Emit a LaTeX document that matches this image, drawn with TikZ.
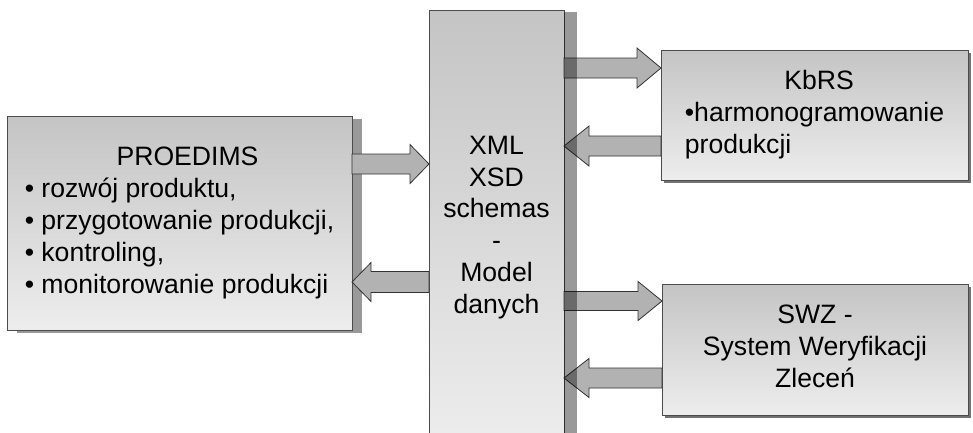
\documentclass[tikz,border=0pt]{standalone}
\usepackage{fontspec}
\setmainfont{Liberation Sans}
\usetikzlibrary{shadows,calc}
\newcommand\blockarr[6]{% from, to, image y, shaft half, head half, signed head length
  \draw[barrow] let \p1=(#1 |- 0,#3), \p2=(#2 |- 0,#3) in
    (\x1,\y2+#4) -- (\x2-#6,\y2+#4) -- (\x2-#6,\y2+#5) -- (\x2,\y2)
    -- (\x2-#6,\y2-#5) -- (\x2-#6,\y2-#4) -- (\x1,\y2-#4) -- cycle;}
\begin{document}
\begin{tikzpicture}[x=1pt,y=-1pt,
  boxstyle/.style={draw=black!70,line width=1pt,top color=black!23,bottom color=black!7,
    inner sep=0pt,outer sep=0pt,font=\fontsize{26.6pt}{31.9pt}\selectfont},
  barrow/.style={draw=black!80,line width=0.8pt,fill=black!30,line join=miter}]
\useasboundingbox (0,0) rectangle (973,432);
\fill[white] (0,0) rectangle (973,432);

\node[boxstyle,minimum width=345pt,minimum height=214pt,
  general shadow={fill=black!40,shadow xshift=10pt,shadow yshift=-3pt}] (P) at (179.5,223)
  {\begin{tabular}{@{}l@{}}\multicolumn{1}{@{}c@{}}{\hspace{16pt}PROEDIMS}\\
   • rozwój produktu,\\ • przygotowanie produkcji,\\ • kontroling,\\ • monitorowanie produkcji\end{tabular}};

\node[boxstyle,minimum width=135pt,minimum height=435pt] (C) at (496.5,227.5)
  {\begin{tabular}{@{}c@{}}XML\\ XSD\\ schemas\\ -\\ Model\\ danych\end{tabular}};

\node[boxstyle,minimum width=307pt,minimum height=130pt,
  general shadow={fill=black!55,shadow xshift=2.5pt,shadow yshift=-3pt}] (K) at (814.5,115)
  {\begin{tabular}{@{}l@{}}\multicolumn{1}{@{}c@{}}{\hspace{9pt}KbRS}\\
   •harmonogramowanie\\ produkcji\end{tabular}};

\node[boxstyle,minimum width=306pt,minimum height=131pt,
  general shadow={fill=black!55,shadow xshift=2.5pt,shadow yshift=-3pt}] (S) at (815,349.5)
  {\begin{tabular}{@{}c@{}}SWZ -\\ System Weryfikacji\\ Zleceń\end{tabular}};

% connectors
\blockarr{P.east}{C.west}{164}{10pt}{19.5pt}{19pt}
\blockarr{C.west}{P.east}{282}{10.5pt}{19.5pt}{-19pt}
\blockarr{C.east}{K.west}{68}{10pt}{20pt}{24pt}
\blockarr{K.west}{C.east}{146}{10pt}{20pt}{-25pt}
\blockarr{C.east}{S.west}{301}{9.5pt}{19.5pt}{24pt}
\blockarr{S.west}{C.east}{378}{10pt}{19.5pt}{-25pt}

% shadow of the centre box, lying over the arrow shafts
\fill[black,opacity=0.4] ([yshift=-2pt]C.north east) rectangle ([xshift=13pt,yshift=-2pt]C.south east);
\end{tikzpicture}
\end{document}
